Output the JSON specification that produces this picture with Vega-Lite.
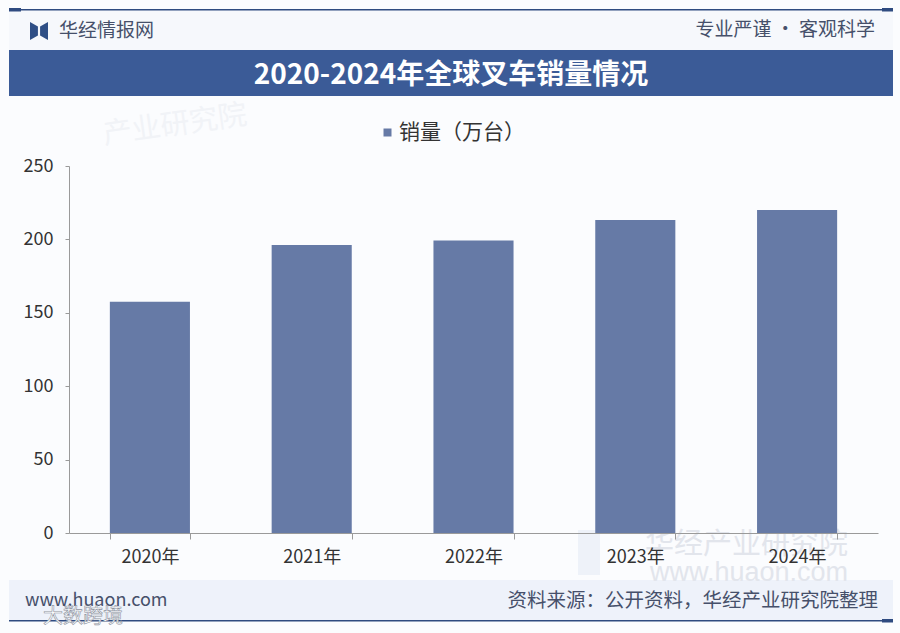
{
  "$schema": "https://vega.github.io/schema/vega-lite/v6.json",
  "description": "2020-2024 global forklift sales with report header and footer bands",
  "background": "#fbfcfe",
  "width": 900,
  "height": 633,
  "padding": 0,
  "autosize": "none",
  "config": {
    "view": {"stroke": null},
    "text": {"font": "Noto Sans CJK SC"}
  },
  "data": {"values": [{"part": "decor"}]},
  "resolve": {"scale": {"x": "independent", "y": "independent"}},
  "layer": [
    {
      "mark": {"type": "rect", "color": "#f6f8fc"},
      "encoding": {
        "x": {"datum": 9, "type": "quantitative", "axis": null, "scale": {"domain": [0, 900], "nice": false, "zero": false}},
        "x2": {"datum": 893},
        "y": {"datum": 10, "type": "quantitative", "axis": null, "scale": {"domain": [633, 0], "nice": false, "zero": false}},
        "y2": {"datum": 50}
      }
    },
    {
      "mark": {"type": "rect", "color": "#eef2fa"},
      "encoding": {
        "x": {"datum": 9, "type": "quantitative", "axis": null, "scale": {"domain": [0, 900], "nice": false, "zero": false}},
        "x2": {"datum": 893},
        "y": {"datum": 580, "type": "quantitative", "axis": null, "scale": {"domain": [633, 0], "nice": false, "zero": false}},
        "y2": {"datum": 620}
      }
    },
    {
      "mark": {"type": "rect", "color": "#2f4b80"},
      "encoding": {
        "x": {"datum": 9, "type": "quantitative", "axis": null, "scale": {"domain": [0, 900], "nice": false, "zero": false}},
        "x2": {"datum": 893},
        "y": {"datum": 9, "type": "quantitative", "axis": null, "scale": {"domain": [633, 0], "nice": false, "zero": false}},
        "y2": {"datum": 10.5}
      }
    },
    {
      "mark": {"type": "rect", "color": "#2f4b80"},
      "encoding": {
        "x": {"datum": 9, "type": "quantitative", "axis": null, "scale": {"domain": [0, 900], "nice": false, "zero": false}},
        "x2": {"datum": 21},
        "y": {"datum": 8, "type": "quantitative", "axis": null, "scale": {"domain": [633, 0], "nice": false, "zero": false}},
        "y2": {"datum": 11.5}
      }
    },
    {
      "mark": {"type": "rect", "color": "#2f4b80"},
      "encoding": {
        "x": {"datum": 882, "type": "quantitative", "axis": null, "scale": {"domain": [0, 900], "nice": false, "zero": false}},
        "x2": {"datum": 893},
        "y": {"datum": 8, "type": "quantitative", "axis": null, "scale": {"domain": [633, 0], "nice": false, "zero": false}},
        "y2": {"datum": 11.5}
      }
    },
    {
      "mark": {"type": "rect", "color": "#3b5b97"},
      "encoding": {
        "x": {"datum": 9, "type": "quantitative", "axis": null, "scale": {"domain": [0, 900], "nice": false, "zero": false}},
        "x2": {"datum": 893},
        "y": {"datum": 50, "type": "quantitative", "axis": null, "scale": {"domain": [633, 0], "nice": false, "zero": false}},
        "y2": {"datum": 96}
      }
    },
    {
      "mark": {"type": "rect", "color": "#2f4b80"},
      "encoding": {
        "x": {"datum": 9, "type": "quantitative", "axis": null, "scale": {"domain": [0, 900], "nice": false, "zero": false}},
        "x2": {"datum": 893},
        "y": {"datum": 620, "type": "quantitative", "axis": null, "scale": {"domain": [633, 0], "nice": false, "zero": false}},
        "y2": {"datum": 621.5}
      }
    },
    {
      "mark": {"type": "rect", "color": "#2f4b80"},
      "encoding": {
        "x": {"datum": 882, "type": "quantitative", "axis": null, "scale": {"domain": [0, 900], "nice": false, "zero": false}},
        "x2": {"datum": 893},
        "y": {"datum": 619, "type": "quantitative", "axis": null, "scale": {"domain": [633, 0], "nice": false, "zero": false}},
        "y2": {"datum": 622.5}
      }
    },
    {
      "mark": {"type": "rect", "color": "#eef2f9"},
      "encoding": {
        "x": {"datum": 578, "type": "quantitative", "axis": null, "scale": {"domain": [0, 900], "nice": false, "zero": false}},
        "x2": {"datum": 600},
        "y": {"datum": 530, "type": "quantitative", "axis": null, "scale": {"domain": [633, 0], "nice": false, "zero": false}},
        "y2": {"datum": 575}
      }
    },
    {
      "data": {"values": [{"label": "华经产业研究院"}]},
      "mark": {"type": "text", "align": "right", "baseline": "middle", "fontSize": 29, "color": "#e2e5ec"},
      "encoding": {
        "x": {"datum": 848, "type": "quantitative", "axis": null, "scale": {"domain": [0, 900], "nice": false, "zero": false}},
        "y": {"datum": 545, "type": "quantitative", "axis": null, "scale": {"domain": [633, 0], "nice": false, "zero": false}},
        "text": {"field": "label"}
      }
    },
    {
      "data": {"values": [{"label": "www.huaon.com"}]},
      "mark": {"type": "text", "align": "right", "baseline": "middle", "fontSize": 27, "color": "#e2e5ec", "font": "Liberation Sans"},
      "encoding": {
        "x": {"datum": 848, "type": "quantitative", "axis": null, "scale": {"domain": [0, 900], "nice": false, "zero": false}},
        "y": {"datum": 573, "type": "quantitative", "axis": null, "scale": {"domain": [633, 0], "nice": false, "zero": false}},
        "text": {"field": "label"}
      }
    },
    {
      "data": {"values": [{"label": "产业研究院"}]},
      "mark": {"type": "text", "align": "center", "baseline": "middle", "fontSize": 29, "color": "#f1f3f7", "angle": 352},
      "encoding": {
        "x": {"datum": 175, "type": "quantitative", "axis": null, "scale": {"domain": [0, 900], "nice": false, "zero": false}},
        "y": {"datum": 125, "type": "quantitative", "axis": null, "scale": {"domain": [633, 0], "nice": false, "zero": false}},
        "text": {"field": "label"}
      }
    },
    {
      "data": {
        "values": [
          {"year": "2020年", "sales": 157.5, "series": "销量（万台）"},
          {"year": "2021年", "sales": 196.2, "series": "销量（万台）"},
          {"year": "2022年", "sales": 199.3, "series": "销量（万台）"},
          {"year": "2023年", "sales": 213.2, "series": "销量（万台）"},
          {"year": "2024年", "sales": 220, "series": "销量（万台）"}
        ]
      },
      "mark": {"type": "bar"},
      "encoding": {
        "x": {
          "field": "year",
          "type": "nominal",
          "title": null,
          "scale": {"range": [69, 878], "paddingInner": 0.505, "paddingOuter": 0.2525},
          "axis": {
            "offset": -100,
            "zindex": 1,
            "labelAngle": 0,
            "labelFont": "Noto Sans CJK SC",
            "labelFontSize": 18,
            "labelColor": "#333333",
            "labelPadding": 9,
            "domainColor": "#9a9a9a",
            "tickColor": "#9a9a9a",
            "tickBand": "extent",
            "tickSize": 6
          }
        },
        "y": {
          "field": "sales",
          "type": "quantitative",
          "title": null,
          "scale": {"domain": [0, 250], "nice": false, "range": [533, 166]},
          "axis": {
            "offset": -69,
            "zindex": 1,
            "values": [0, 50, 100, 150, 200, 250],
            "grid": false,
            "labelFont": "Noto Sans CJK SC",
            "labelFontSize": 18,
            "labelColor": "#333333",
            "labelPadding": 12,
            "domainColor": "#9a9a9a",
            "tickColor": "#9a9a9a",
            "tickSize": 4
          }
        },
        "color": {
          "field": "series",
          "type": "nominal",
          "scale": {"range": ["#667aa6"]},
          "legend": {
            "title": null,
            "orient": "none",
            "legendX": 377,
            "legendY": 122,
            "symbolType": "square",
            "symbolSize": 64,
            "labelOffset": 1,
            "labelFont": "Noto Sans CJK SC",
            "labelFontSize": 21,
            "labelColor": "#333333",
            "labelLimit": 200
          }
        }
      }
    },
    {
      "data": {"values": [{"label": "华经情报网"}]},
      "mark": {"type": "text", "align": "left", "baseline": "middle", "fontSize": 19, "color": "#46506a"},
      "encoding": {
        "x": {"datum": 59, "type": "quantitative", "axis": null, "scale": {"domain": [0, 900], "nice": false, "zero": false}},
        "y": {"datum": 31, "type": "quantitative", "axis": null, "scale": {"domain": [633, 0], "nice": false, "zero": false}},
        "text": {"field": "label"}
      }
    },
    {
      "mark": {
        "type": "point",
        "filled": true,
        "opacity": 1,
        "color": "#2f4f86",
        "size": 324,
        "shape": "M-1,-1 L-0.12,-0.5 L-0.12,0.5 L-1,1 Z M1,-1 L0.12,-0.5 L0.12,0.5 L1,1 Z"
      },
      "encoding": {
        "x": {"datum": 39, "type": "quantitative", "axis": null, "scale": {"domain": [0, 900], "nice": false, "zero": false}},
        "y": {"datum": 31, "type": "quantitative", "axis": null, "scale": {"domain": [633, 0], "nice": false, "zero": false}}
      }
    },
    {
      "data": {"values": [{"label": "专业严谨 • 客观科学"}]},
      "mark": {"type": "text", "align": "right", "baseline": "middle", "fontSize": 19, "color": "#46506a"},
      "encoding": {
        "x": {"datum": 875, "type": "quantitative", "axis": null, "scale": {"domain": [0, 900], "nice": false, "zero": false}},
        "y": {"datum": 30, "type": "quantitative", "axis": null, "scale": {"domain": [633, 0], "nice": false, "zero": false}},
        "text": {"field": "label"}
      }
    },
    {
      "data": {"values": [{"label": "2020-2024年全球叉车销量情况"}]},
      "mark": {"type": "text", "align": "center", "baseline": "middle", "fontSize": 28, "fontWeight": "bold", "color": "#ffffff"},
      "encoding": {
        "x": {"datum": 451, "type": "quantitative", "axis": null, "scale": {"domain": [0, 900], "nice": false, "zero": false}},
        "y": {"datum": 76, "type": "quantitative", "axis": null, "scale": {"domain": [633, 0], "nice": false, "zero": false}},
        "text": {"field": "label"}
      }
    },
    {
      "data": {"values": [{"label": "www.huaon.com"}]},
      "mark": {"type": "text", "align": "left", "baseline": "middle", "fontSize": 18, "color": "#46506a"},
      "encoding": {
        "x": {"datum": 25, "type": "quantitative", "axis": null, "scale": {"domain": [0, 900], "nice": false, "zero": false}},
        "y": {"datum": 601, "type": "quantitative", "axis": null, "scale": {"domain": [633, 0], "nice": false, "zero": false}},
        "text": {"field": "label"}
      }
    },
    {
      "data": {"values": [{"label": "资料来源：公开资料，华经产业研究院整理"}]},
      "mark": {"type": "text", "align": "right", "baseline": "middle", "fontSize": 19.5, "color": "#46506a"},
      "encoding": {
        "x": {"datum": 878, "type": "quantitative", "axis": null, "scale": {"domain": [0, 900], "nice": false, "zero": false}},
        "y": {"datum": 601, "type": "quantitative", "axis": null, "scale": {"domain": [633, 0], "nice": false, "zero": false}},
        "text": {"field": "label"}
      }
    },
    {
      "data": {"values": [{"label": "大数跨境"}]},
      "mark": {"type": "text", "align": "left", "baseline": "middle", "fontSize": 20, "color": "#ffffff", "stroke": "#8d93a0", "strokeWidth": 0.6},
      "encoding": {
        "x": {"datum": 43, "type": "quantitative", "axis": null, "scale": {"domain": [0, 900], "nice": false, "zero": false}},
        "y": {"datum": 617, "type": "quantitative", "axis": null, "scale": {"domain": [633, 0], "nice": false, "zero": false}},
        "text": {"field": "label"}
      }
    }
  ]
}
